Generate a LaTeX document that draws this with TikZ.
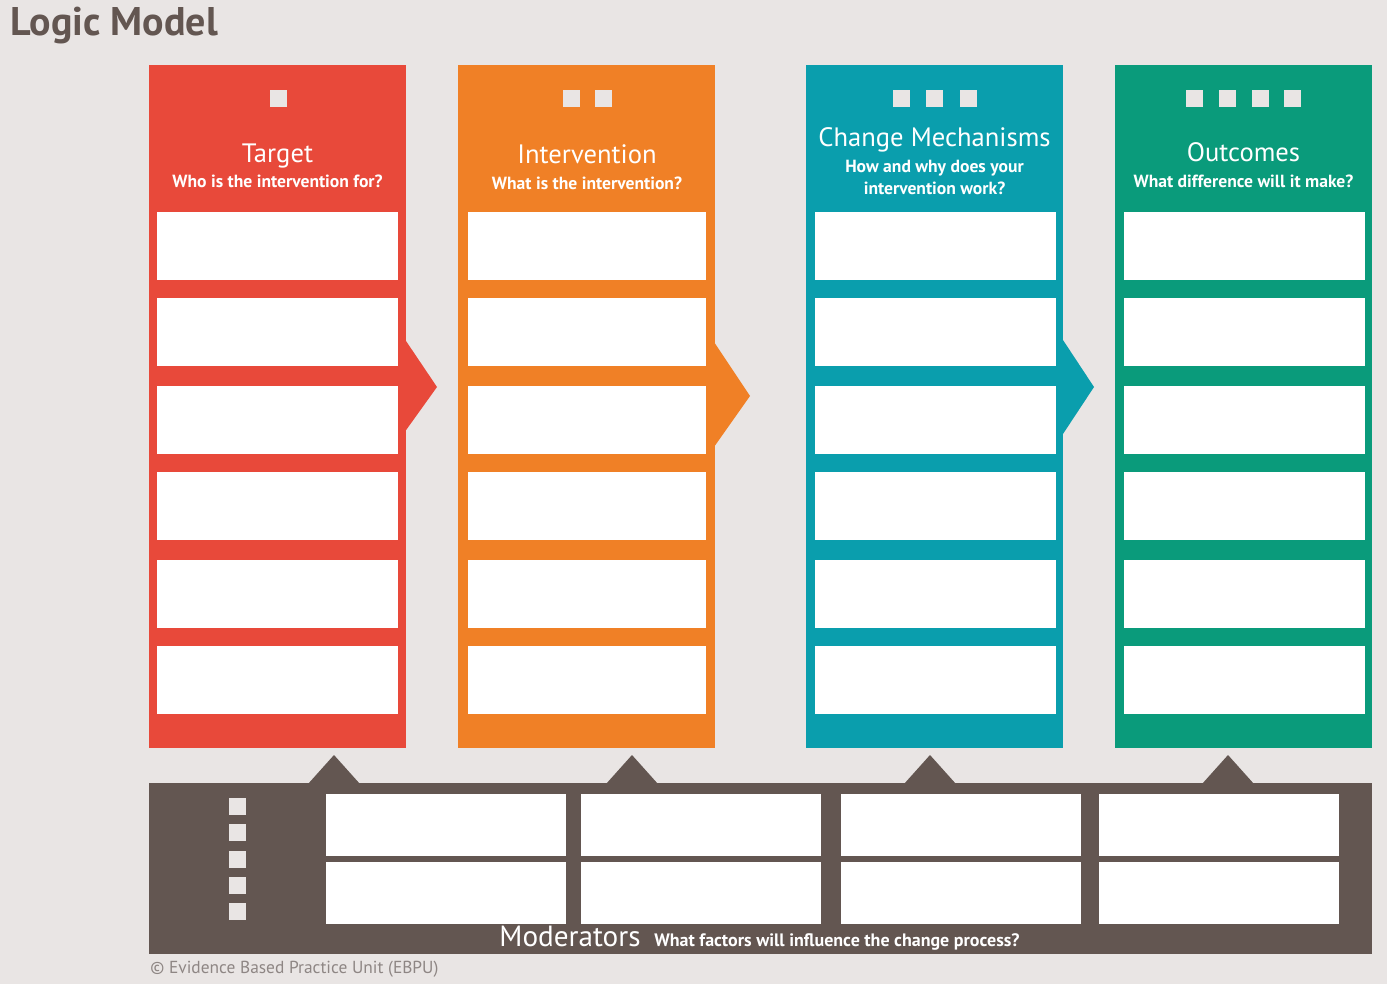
\documentclass[tikz,border=0pt]{standalone}
\usepackage{fontspec}
\setmainfont{PT Sans}
\definecolor{paper}{HTML}{E9E5E4}
\definecolor{target}{HTML}{E8493A}
\definecolor{interv}{HTML}{F08026}
\definecolor{change}{HTML}{0A9EAD}
\definecolor{outcome}{HTML}{0A9B7B}
\definecolor{modbar}{HTML}{635651}
\definecolor{fine}{HTML}{8E8684}
\begin{document}
\begin{tikzpicture}[x=0.5pt,y=-0.5pt]
	\def \colmid{406.5}
	\def \headsq{98.5}
	\def \barmid{868.5}
	\tikzstyle{col}=[rectangle,inner sep=0pt,minimum width=128.5pt,minimum height=341.5pt]
	\tikzstyle{slot}=[rectangle,fill=white,inner sep=0pt,minimum width=120.5pt,minimum height=34pt]
	\tikzstyle{mslot}=[rectangle,fill=white,inner sep=0pt,minimum width=120pt,minimum height=31pt]
	\tikzstyle{sq}=[rectangle,fill=paper,inner sep=0pt,minimum size=8.5pt]
	\tikzstyle{head}=[text=white,inner sep=0pt,anchor=base,font=\fontsize{13.3}{15}\selectfont]
	\tikzstyle{ask}=[text=white,inner sep=0pt,anchor=base,align=center,font=\bfseries\fontsize{8.8}{11}\selectfont]

	\useasboundingbox[fill=paper] (0,0) rectangle (1387,984);

	\node[anchor=base west,inner sep=0pt,text=modbar,font=\bfseries\fontsize{20}{22}\selectfont] (title) at (10,36) {Logic Model};

	% columns
	\node[col,fill=target] 	(tcol)	at (277.5,\colmid)	{};
	\node[col,fill=interv] 	(icol)	at (586.5,\colmid)	{};
	\node[col,fill=change] 	(ccol)	at (934.5,\colmid)	{};
	\node[col,fill=outcome] 	(ocol)	at (1243.5,\colmid)	{};

	% chevrons between columns
	\fill[target] (404,338) -- (437,387) -- (404,433) -- cycle;
	\fill[interv] (714,342) -- (750,396) -- (714,447) -- cycle;
	\fill[change] (1061,337) -- (1094,387) -- (1061,437) -- cycle;

	% header squares
	\node[sq] 	(t1)	at (278,\headsq)	{};
	\node[sq] 	(i1)	at (571,\headsq)	{};
	\node[sq] 	(i2)	at (603,\headsq)	{};
	\node[sq] 	(c1)	at (901.5,\headsq)	{};
	\node[sq] 	(c2)	at (934.5,\headsq)	{};
	\node[sq] 	(c3)	at (968,\headsq)	{};
	\node[sq] 	(o1)	at (1194.5,\headsq)	{};
	\node[sq] 	(o2)	at (1227.5,\headsq)	{};
	\node[sq] 	(o3)	at (1260.5,\headsq)	{};
	\node[sq] 	(o4)	at (1292.5,\headsq)	{};

	% headings
	\node[head] 	(thead)	at (277.5,163)	{Target};
	\node[ask] 	(task)	at (277.5,188)	{Who is the intervention for?};
	\node[head] 	(ihead)	at (587,164)	{Intervention};
	\node[ask] 	(iask)	at (587,190)	{What is the intervention?};
	\node[head] 	(chead)	at (934.5,147)	{Change Mechanisms};
	\node[ask] 	(cask)	at (934.5,195)	{How and why does your\\intervention work?};
	\node[head] 	(ohead)	at (1243.5,162)	{Outcomes};
	\node[ask] 	(oask)	at (1243.5,188)	{What difference will it make?};

	% column slots
	\foreach \y [count=\k] in {246,332,420,506,594,680} {
		\node[slot] 	(t\k)	at (277.5,\y)	{};
		\node[slot,minimum width=119pt] 	(i\k)	at (587,\y)	{};
		\node[slot] 	(c\k)	at (935,\y)	{};
		\node[slot] 	(o\k)	at (1244,\y)	{};
	}

	% moderators bar
	\fill[modbar] (149,783) rectangle (1372,954);
	\foreach \x in {334,632,930,1228}
		\fill[modbar] (\x-26,784) -- (\x,755) -- (\x+26,784) -- cycle;
	\foreach \y [count=\k] in {806.5,832.5,859,885,911}
		\node[sq] 	(m\k)	at (237,\y)	{};
	\foreach \x [count=\k] in {446,701,961,1219} {
		\node[mslot] 	(u\k)	at (\x,824.5)	{};
		\node[mslot] 	(l\k)	at (\x,893)	{};
	}
	\node[anchor=base west,inner sep=0pt,text=white,font=\fontsize{14.6}{16}\selectfont] 	(mhead)	at (499,946)	{Moderators};
	\node[anchor=base west,inner sep=0pt,text=white,font=\bfseries\fontsize{9}{11}\selectfont] 	(mask)	at (654,946)	{What factors will influence the change process?};

	\node[anchor=base west,inner sep=0pt,text=fine,font=\fontsize{8.7}{10}\selectfont] 	(copy)	at (150,973)	{© Evidence Based Practice Unit (EBPU)};
\end{tikzpicture}
\end{document}
